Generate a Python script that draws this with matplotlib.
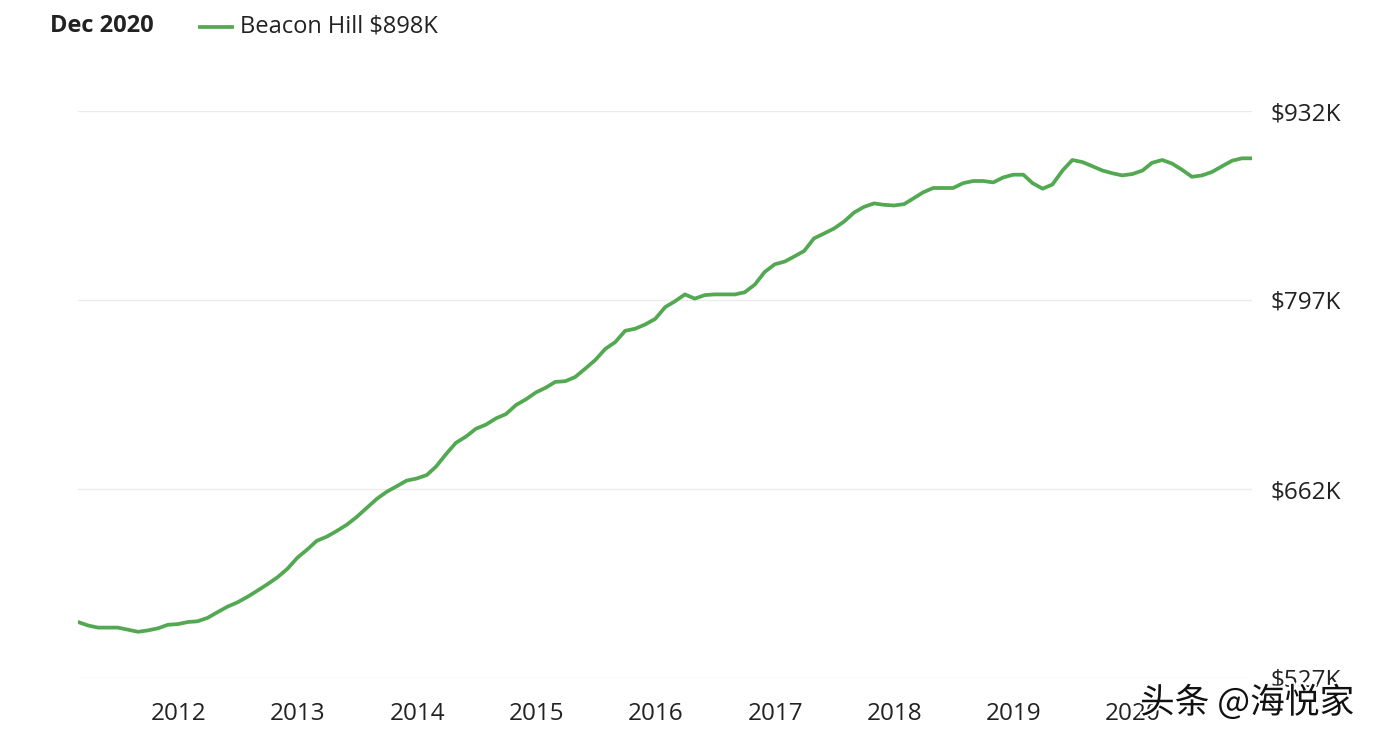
import matplotlib.pyplot as plt
import matplotlib.dates as mdates
import matplotlib.patheffects as pe
import pandas as pd

# monthly home value index, Beacon Hill ($K), Feb 2011 - Dec 2020
months = pd.date_range("2011-02-28", "2020-12-31", freq="ME")
values = [
    567, 564.5, 563, 563, 563, 561.5, 560, 561, 562.5, 565, 565.5, 567,
    567.5, 570, 574, 578, 581, 585, 589.5, 594, 599, 605, 613, 619,
    625, 628, 632, 636.5, 642, 648.5, 655, 660, 664, 668, 669.5, 672,
    678, 687, 695, 699.5, 705, 708, 712.5, 715.5, 722, 726, 731, 734.5,
    738.5, 739, 742, 748, 754, 762, 767, 775, 776.5, 779.5, 783.5, 792,
    796, 801, 798, 800.5, 801, 801, 801, 802.5, 808, 817, 822.5, 824.5,
    828, 832, 841, 844.5, 848, 853, 859.5, 863.5, 866, 865, 864.5, 865.5,
    869.5, 874, 877, 877, 877, 880.5, 882, 882, 881, 884.5, 886.5, 886.5,
    880.5, 876.5, 879.5, 889.5, 897, 895.5, 892.5, 889.5, 887.5, 886, 887, 889.5,
    895, 897, 894.5, 890, 885, 886, 888.5, 892.5, 896.5, 898.2, 898.2,
]
y_ticks = [527, 662, 797, 932]
y_labels = ["$527K", "$662K", "$797K", "$932K"]
years = list(range(2012, 2021))

green = "#53a852"
text_col = "#222222"
plt.rcParams["font.family"] = ["Open Sans", "DejaVu Sans"]

fig = plt.figure(figsize=(13.82, 7.42), dpi=100)
ax = fig.add_axes([78 / 1382, 1 - 678 / 742, (1252 - 78) / 1382, (678 - 111) / 742])

ax.plot(months, values, color=green, lw=2.7, solid_joinstyle="round", zorder=3)

ax.set_xlim(months[0], months[-1])
ax.set_ylim(527, 932)
ax.set_yticks(y_ticks)
ax.set_yticklabels(y_labels)
ax.yaxis.tick_right()
ax.grid(axis="y", color="#ebebeb", lw=1)
ax.set_xticks([pd.Timestamp(f"{y}-01-01") for y in years])
ax.xaxis.set_major_formatter(mdates.DateFormatter("%Y"))
ax.tick_params(axis="both", length=0, labelsize=17.5, colors=text_col)
ax.tick_params(axis="y", pad=13)
ax.tick_params(axis="x", pad=17)
for s in ax.spines.values():
    s.set_visible(False)

# header / legend
fig.text(50 / 1382, 1 - 26 / 742, "Dec 2020", fontsize=17, fontweight="bold",
         color=text_col, va="center")
fig.add_artist(plt.Line2D([200 / 1382, 232 / 1382], [1 - 27 / 742] * 2,
                          color=green, lw=2.7))
fig.text(240 / 1382, 1 - 26 / 742, "Beacon Hill $898K", fontsize=17,
         color=text_col, va="center")

# watermark
fig.text(1140 / 1382, 1 - 703 / 742, "头条 @海悦家", fontsize=25, color="#111111",
         va="center", family=["Noto Sans CJK SC", "DejaVu Sans"],
         path_effects=[pe.withStroke(linewidth=3, foreground="white")])

fig.savefig("out.png", dpi=100)
